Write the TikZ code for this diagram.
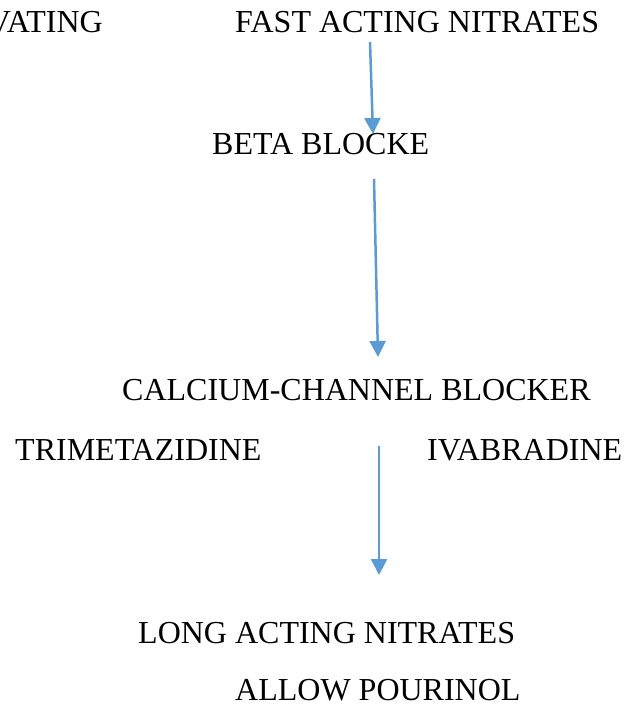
\documentclass[tikz,border=0pt]{standalone}
\usepackage{fontspec}
\setmainfont{Liberation Serif}
\usetikzlibrary{arrows.meta}
\definecolor{arrowblue}{RGB}{91,155,213}

\tikzset{
  drug/.style={anchor=base west, inner sep=0pt, font=\fontsize{32}{38}\selectfont},
  flow/.style={arrowblue, line width=2.5pt, -{Triangle[width=16pt,length=16pt]}}
}

\begin{document}
\begin{tikzpicture}[x=1pt, y=-1pt]
        \clip (0,0) rectangle (629,708);
        \useasboundingbox (0,0) rectangle (629,708);

        \node[drug, anchor=base east] (act) at (103,33) {VATING};
        \node[drug] (fast) at (235,33) {FAST ACTING NITRATES};
        \node[drug] (beta) at (212,155) {BETA BLOCKE};
        \node[drug] (ccb) at (122,400) {CALCIUM-CHANNEL BLOCKER};
        \node[drug] (tmz) at (15,460) {TRIMETAZIDINE};
        \node[drug] (iva) at (427,460) {IVABRADINE};
        \node[drug] (lan) at (138,643) {LONG ACTING NITRATES};
        \node[drug] (allo) at (235,700) {ALLOW POURINOL};

        % arrow ends
        \coordinate (f1) at (370,42);  \coordinate (b1) at (373,134);
        \coordinate (f2) at (374,179); \coordinate (b2) at (378,357);
        \coordinate (f3) at (379,446); \coordinate (b3) at (379,575);

        \draw[flow] (f1) -- (b1);
        \draw[flow] (f2) -- (b2);
        \draw[flow] (f3) -- (b3);

\end{tikzpicture}
\end{document}
